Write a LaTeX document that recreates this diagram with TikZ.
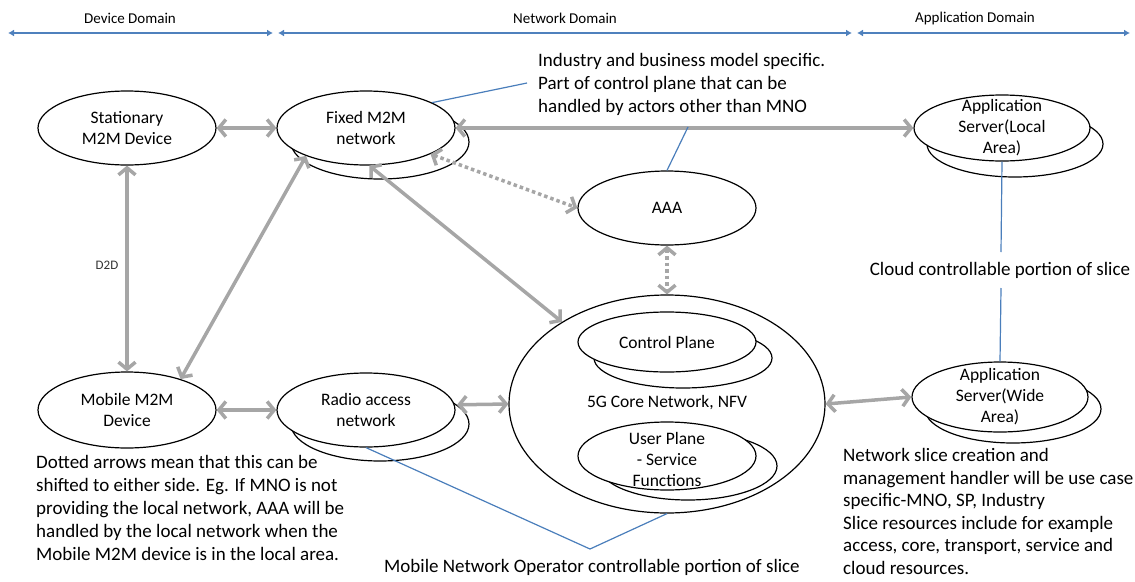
\documentclass[tikz,border=0pt]{standalone}
\usepackage{fontspec}
\setmainfont{Carlito}
\usetikzlibrary{shapes.geometric,arrows.meta,calc}
\definecolor{arrowgray}{RGB}{166,166,166}
\definecolor{noteblue}{RGB}{74,126,187}
\definecolor{domblue}{RGB}{79,129,189}
\tikzset{
  ell/.style={ellipse, draw=black, line width=1.2pt, fill=white, inner sep=0pt, minimum width=178pt, minimum height=74pt},
  ntext/.style={align=center, inner sep=0pt, font=\fontsize{17.5}{21}\selectfont},
  note/.style={align=left, inner sep=0pt, font=\fontsize{19}{23}\selectfont},
  garrow/.style={draw=arrowgray, line width=3.5pt, {Straight Barb[length=7pt,width=17pt]}-{Straight Barb[length=7pt,width=17pt]}},
  gdots/.style={garrow, dash pattern=on 3.5pt off 3pt},
  bline/.style={draw=noteblue, line width=1.2pt},
  domarrow/.style={draw=domblue, line width=1.5pt, {Latex[length=6pt,width=7pt]}-{Latex[length=6pt,width=7pt]}},
  domlabel/.style={inner sep=0pt, font=\fontsize{15}{18}\selectfont}
}
\begin{document}
\begin{tikzpicture}[x=1pt,y=-1pt]
\useasboundingbox (0,0) rectangle (1135,581);

% domain arrows
\coordinate (d1) at (8,33);
\coordinate (d2) at (273,33);
\coordinate (d3) at (278,33);
\coordinate (d4) at (852,33);
\coordinate (d5) at (857,33);
\coordinate (d6) at (1130,33);
\draw[domarrow] (d1) -- (d2);
\draw[domarrow] (d3) -- (d4);
\draw[domarrow] (d5) -- (d6);
\node[domlabel] (devdom) at (130,18) {Device Domain};
\node[domlabel] (netdom) at (565,18) {Network Domain};
\node[domlabel] (appdom) at (975,18) {Application Domain};

% back ellipses
\node[ell] (fixedB) at (380,142) {};
\node[ell] (ranB) at (380,424) {};
\node[ell, minimum width=176pt, minimum height=66pt] (appLB) at (1015,144) {};
\node[ell, minimum width=176pt, minimum height=68pt] (appWB) at (1013,409) {};

% front ellipses
\node[ell] (stat) at (127,128) {};
\node[ell] (fixed) at (366,128) {};
\node[ell] (aaa) at (667,208) {};
\node[ell, minimum width=176pt, minimum height=66pt] (appL) at (1002,128) {};
\node[ell, minimum width=178pt, minimum height=76pt] (mobile) at (127,410) {};
\node[ell] (ran) at (366,410) {};
\node[ell, minimum width=316pt, minimum height=218pt] (core) at (667,404) {};
\node[ell, minimum width=178pt, minimum height=60pt] (ctrlB) at (683,358) {};
\node[ell, minimum width=178pt, minimum height=60pt] (ctrl) at (667,342) {};
\node[ell, minimum width=178pt, minimum height=68pt] (userB) at (688,466) {};
\node[ell, minimum width=178pt, minimum height=68pt] (user) at (667,456) {};
\node[ell, minimum width=176pt, minimum height=70pt] (appW) at (1000,397) {};

% node texts
\node[ntext] (statT) at (stat) {Stationary\\M2M Device};
\node[ntext] (fixedT) at (fixed) {Fixed M2M\\network};
\node[ntext] (aaaT) at (aaa) {AAA};
\node[ntext] (appLT) at (appL) {Application\\Server(Local\\Area)};
\node[ntext] (mobileT) at (mobile) {Mobile M2M\\Device};
\node[ntext] (ranT) at (ran) {Radio access\\network};
\node[ntext] (coreT) at (667,403) {5G Core Network, NFV};
\node[ntext] (ctrlT) at (ctrl) {Control Plane};
\node[ntext] (userT) at (667,459) {User Plane\\- Service\\Functions};
\node[ntext] (appWT) at (appW) {Application\\Server(Wide\\Area)};

% gray connectors
\draw[garrow] (stat) -- (fixed);
\draw[garrow] (fixed) -- (appL);
\draw[garrow] (stat.south) -- (mobile.north);
\node[inner sep=0pt, font=\fontsize{13}{15}\selectfont, text=black!80] (d2d) at (107,265) {D2D};
\draw[garrow] (mobile.30) -- (fixed.205);
\draw[garrow] (fixed.-85) -- (core.142);
\draw[garrow] (mobile) -- (ran);
\draw[garrow] (ranB.14) -- (core.west);
\draw[garrow] (core.east) -- (appW.west);
\draw[gdots] (fixed.-22) -- (aaa.west);
\draw[gdots] (aaa.south) -- (core.north);

% notes
\node[note, anchor=north west] (indT) at (538,53) {Industry and business model specific.\\Part of control plane that can be\\handled by actors other than MNO};
\coordinate (c1) at (527,83);
\coordinate (c2) at (688,127);
\draw[bline] (fixed.21) -- (c1);
\draw[bline] (c2) -- (aaa.north);

\node[note] (cloudT) at (1000,270) {Cloud controllable portion of slice};
\coordinate (c3) at (1001,252);
\coordinate (c4) at (1001,288);
\draw[bline] (appL.south) -- (c3);
\draw[bline] (c4) -- (appW.north);

\node[note, anchor=north west] (dotT) at (36,455) {Dotted arrows mean that this can be\\shifted to either side. Eg. If MNO is not\\providing the local network, AAA will be\\handled by the local network when the\\Mobile M2M device is in the local area.};

\node[note, anchor=north west, font=\fontsize{19}{22.6}\selectfont] (sliceT) at (843,448) {Network slice creation and\\management handler will be use case\\specific-MNO, SP, Industry\\Slice resources include for example\\access, core, transport, service and\\cloud resources.};

\node[note] (mnoT) at (592,567) {Mobile Network Operator controllable portion of slice};
\coordinate (v) at (590,549);
\draw[bline] (ran.south) -- (v) -- (core.south);
\end{tikzpicture}
\end{document}
